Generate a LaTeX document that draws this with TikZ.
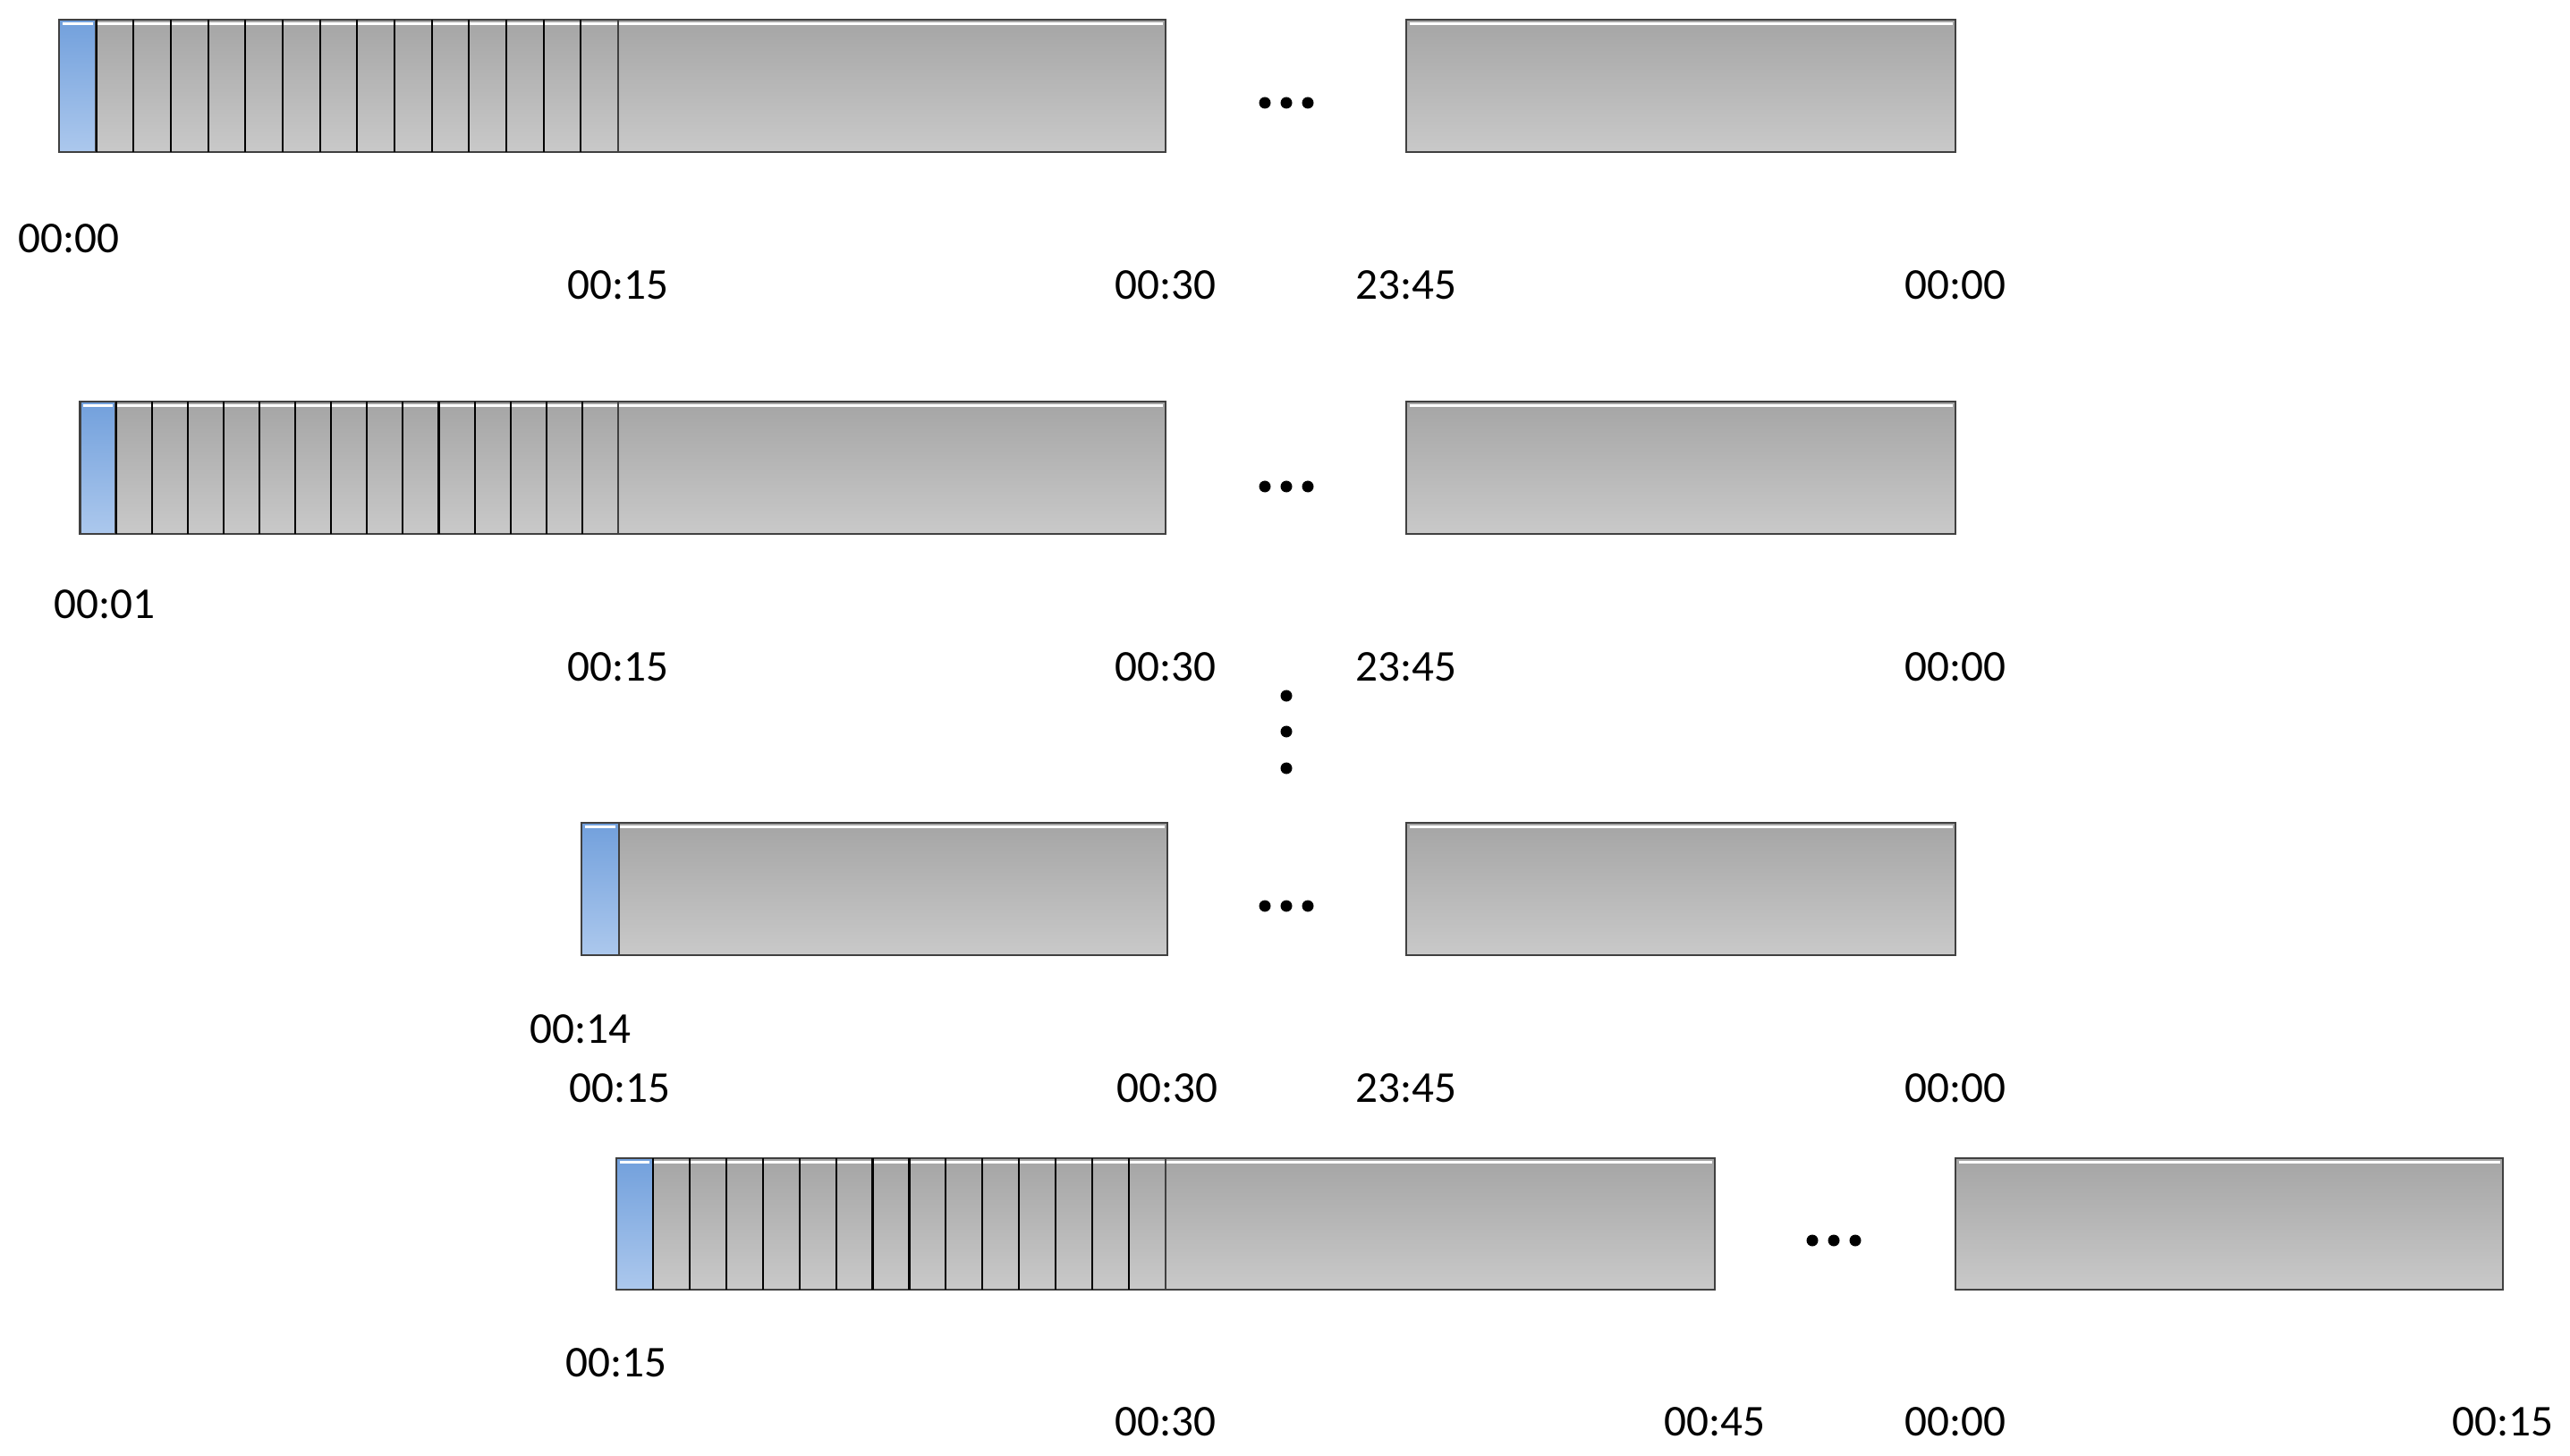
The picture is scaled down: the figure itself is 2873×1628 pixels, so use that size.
\documentclass[tikz,border=0pt]{standalone}
\usepackage{fontspec}
\setmainfont{Carlito}
\usetikzlibrary{fit}
\definecolor{gtop}{RGB}{165,165,165}
\definecolor{gbot}{RGB}{201,201,201}
\definecolor{btop}{RGB}{114,160,220}
\definecolor{bbot}{RGB}{172,200,237}
\definecolor{edgec}{RGB}{64,64,64}
\newcommand\myhl[1]{\draw[hilite] ([shift={(1pt,-1.3pt)}]#1.north west) -- ([shift={(-1pt,-1.3pt)}]#1.north east);}
\begin{document}
\begin{tikzpicture}[x=0.01cm, y=-0.01cm,
  bar/.style={draw=edgec, line width=0.75pt, top color=gtop, bottom color=gbot, inner sep=0pt, outer sep=0pt},
  bluecell/.style={bar, top color=btop, bottom color=bbot},
  hilite/.style={white, line width=0.8pt},
  divider/.style={black, line width=0.6pt},
  lastdiv/.style={edgec, line width=0.6pt},
  lbl/.style={font=\fontsize{14}{16}\selectfont, inner sep=0pt},
  dotc/.style={circle, fill=black, minimum size=0.13cm, inner sep=0pt}]
\useasboundingbox (0,0) rectangle (2873,1628);

% ---------- Row 1 ----------
\node[bar, fit={(66,22)(1303,170)}] (r1a) {};
\myhl{r1a}
\node[bar, fit={(1572,22)(2186,170)}] (r1b) {};
\myhl{r1b}
\node[bluecell, fit={(66,22)(107.7,170)}] (r1c) {};
\myhl{r1c}
\foreach \i in {1,...,14} \draw[divider] ({66+\i*41.67},22) -- ({66+\i*41.67},170);
\draw[lastdiv] (691,22) -- (691,170);
\node[dotc] (d1a) at (1414,115) {};
\node[dotc] (d1b) at (1438,115) {};
\node[dotc] (d1c) at (1462,115) {};
\node[lbl] (l1a) at (77,267) {00:00};
\node[lbl] (l1b) at (691,319) {00:15};
\node[lbl] (l1c) at (1303,319) {00:30};
\node[lbl] (l1d) at (1572,319) {23:45};
\node[lbl] (l1e) at (2186,319) {00:00};

% ---------- Row 2 ----------
\node[bar, fit={(89.5,449)(1303,597)}] (r2a) {};
\myhl{r2a}
\node[bar, fit={(1572,449)(2186,597)}] (r2b) {};
\myhl{r2b}
\node[bluecell, fit={(89.5,449)(129.6,597)}] (r2c) {};
\myhl{r2c}
\foreach \i in {1,...,14} \draw[divider] ({89.5+\i*40.1},449) -- ({89.5+\i*40.1},597);
\draw[lastdiv] (691,449) -- (691,597);
\node[dotc] (d2a) at (1414,544) {};
\node[dotc] (d2b) at (1438,544) {};
\node[dotc] (d2c) at (1462,544) {};
\node[lbl] (l2a) at (117,676) {00:01};
\node[lbl] (l2b) at (691,746) {00:15};
\node[lbl] (l2c) at (1303,746) {00:30};
\node[lbl] (l2d) at (1572,746) {23:45};
\node[lbl] (l2e) at (2186,746) {00:00};

% ---------- vertical dots ----------
\node[dotc] (v1) at (1438,778) {};
\node[dotc] (v2) at (1438,818) {};
\node[dotc] (v3) at (1438,859) {};

% ---------- Row 3 ----------
\node[bar, fit={(650,920)(1305,1068)}] (r3a) {};
\myhl{r3a}
\node[bar, fit={(1572,920)(2186,1068)}] (r3b) {};
\myhl{r3b}
\node[bluecell, fit={(650,920)(692,1068)}] (r3c) {};
\myhl{r3c}
\node[dotc] (d3a) at (1414,1013) {};
\node[dotc] (d3b) at (1438,1013) {};
\node[dotc] (d3c) at (1462,1013) {};
\node[lbl] (l3a) at (649,1151) {00:14};
\node[lbl] (l3b) at (693,1217) {00:15};
\node[lbl] (l3c) at (1305,1217) {00:30};
\node[lbl] (l3d) at (1572,1217) {23:45};
\node[lbl] (l3e) at (2186,1217) {00:00};

% ---------- Row 4 ----------
\node[bar, fit={(689,1295)(1917,1442)}] (r4a) {};
\myhl{r4a}
\node[bar, fit={(2186,1295)(2798,1442)}] (r4b) {};
\myhl{r4b}
\node[bluecell, fit={(689,1295)(729.9,1442)}] (r4c) {};
\myhl{r4c}
\foreach \i in {1,...,14} \draw[divider] ({689+\i*40.93},1295) -- ({689+\i*40.93},1442);
\draw[lastdiv] (1303,1295) -- (1303,1442);
\node[dotc] (d4a) at (2026,1387) {};
\node[dotc] (d4b) at (2050,1387) {};
\node[dotc] (d4c) at (2074,1387) {};
\node[lbl] (l4a) at (689,1524) {00:15};
\node[lbl] (l4b) at (1303,1590) {00:30};
\node[lbl] (l4c) at (1917,1590) {00:45};
\node[lbl] (l4d) at (2186,1590) {00:00};
\node[lbl] (l4e) at (2798,1590) {00:15};
\end{tikzpicture}
\end{document}
